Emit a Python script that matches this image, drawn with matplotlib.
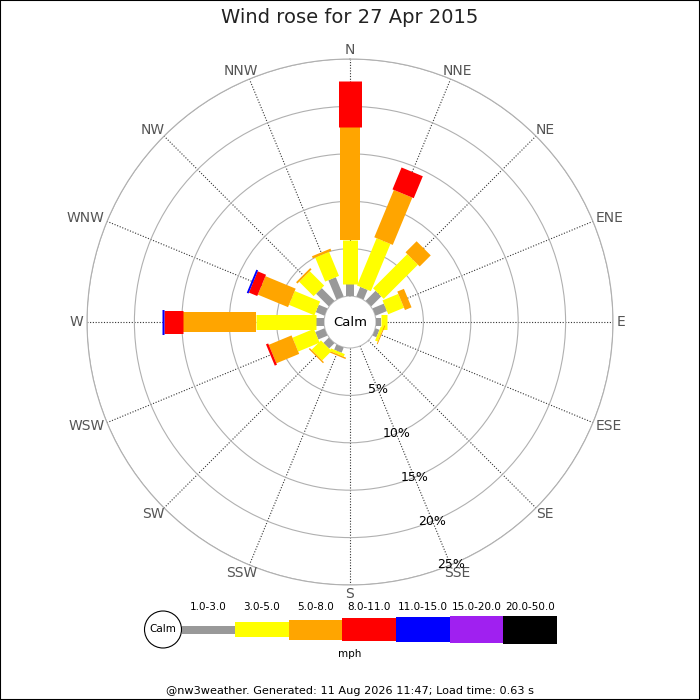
import numpy as np
import matplotlib
matplotlib.use("Agg")
import matplotlib.pyplot as plt
from matplotlib.patches import Rectangle, Circle

# --- data (percent of time, per speed band, non-cumulative) ---
directions = ['N', 'NNE', 'NE', 'ENE', 'E', 'ESE', 'SE', 'SSE',
              'S', 'SSW', 'SW', 'WSW', 'W', 'WNW', 'NW', 'NNW']
speed_edges = [1.0, 3.0, 5.0, 8.0, 11.0, 15.0, 20.0, 50.0]
band_1_3 = [1.25, 1.1, 1.5, 1.3, 0.5, 0.45, 0, 0, 0, 0.6, 0.8, 1.05, 0.85, 1.0, 1.9, 2.2]
band_3_5 = [4.65, 5.4, 5.1, 1.8, 0.7, 0.3, 0, 0, 0, 0.3, 1.4, 2.45, 6.3, 2.9, 2.15, 2.75]
band_5_8 = [11.9, 5.4, 1.65, 0.75, 0, 0.1, 0, 0, 0, 0.15, 0.15, 2.6, 7.75, 3.45, 0.2, 0.25]
band_8_11 = [4.9, 2.5, 0, 0, 0, 0, 0, 0, 0, 0, 0, 0.25, 2.0, 0.95, 0, 0]
band_11_15 = [0, 0, 0, 0, 0, 0, 0, 0, 0, 0, 0, 0, 0.15, 0.2, 0, 0]
band_15_20 = [0] * 16
band_20_50 = [0] * 16
rings = [5, 10, 15, 20, 25]

bands = [band_1_3, band_3_5, band_5_8, band_8_11, band_11_15, band_15_20, band_20_50]
colors = ['#999999', '#ffff00', '#ffa500', '#ff0000', '#0000ff', '#a020f0', '#000000']
widths_px = [8, 15, 20, 23, 25, 27, 28]

fig = plt.figure(figsize=(7, 7), dpi=100)
fig.patch.set_facecolor('white')

# polar rose with a hole for calm
rmax = 25
r0 = 2.74
ax = fig.add_axes([0.1243, 0.1643, 0.7514, 0.7514], projection='polar')
ax.set_theta_zero_location('N')
ax.set_theta_direction(-1)
ax.set_ylim(0, rmax)
ax.set_rorigin(-r0)
theta = np.deg2rad(np.arange(16) * 22.5)

ax.set_thetagrids(np.arange(16) * 22.5, labels=[''] * 16)
ax.set_rgrids(rings, labels=[''] * len(rings))
ax.xaxis.grid(True, linestyle=(0, (1, 1.5)), color='#333333', linewidth=0.8)
ax.yaxis.grid(True, linestyle='-', color='#b0b0b0', linewidth=0.8)
ax.tick_params(length=0)
ax.spines['polar'].set_color('#b0b0b0')
ax.spines['polar'].set_linewidth(0.8)
ax.spines['inner'].set_color('#bbbbbb')
ax.spines['inner'].set_linewidth(0.8)

for i in range(16):
    bottom = 0.0
    for k, band in enumerate(bands):
        v = band[i]
        if v <= 0:
            continue
        ax.plot([theta[i], theta[i]], [bottom, bottom + v], color=colors[k],
                lw=widths_px[k] * 0.72, solid_capstyle='butt', zorder=3)
        bottom += v

# compass labels just outside the rim, pushed out by half their size
renderer = fig.canvas.get_renderer()
for i, name in enumerate(directions):
    s, c = np.sin(theta[i]), np.cos(theta[i])
    t = ax.text(0, 0, name, fontsize=10)
    w = t.get_window_extent(renderer).width
    t.remove()
    dx = s * (4 + w / 2)
    dy = c * (4 + 5)
    ax.annotate(name, xy=(theta[i], rmax), xytext=(dx * 0.72, dy * 0.72),
                textcoords='offset points', ha='center', va='center',
                fontsize=10, color='#555555', annotation_clip=False)

for r in rings:
    ax.text(np.deg2rad(157.5), r, f'{r}%', ha='center', va='center',
            fontsize=9, color='black', zorder=4, clip_on=False)

ax.text(0.5, 0.5, 'Calm', transform=ax.transAxes, ha='center', va='center',
        fontsize=9.5, color='black')

# title and footer
fig.text(0.5, 1 - 17.5 / 700, 'Wind rose for 27 Apr 2015', ha='center', va='center',
         fontsize=14, color='#222222')
fig.text(0.5, 1 - 691 / 700,
         '@nw3weather. Generated: 11 Aug 2026 11:47; Load time: 0.63 s',
         ha='center', va='center', fontsize=8.1, color='black')

# legend strip (pixel coordinates)
lax = fig.add_axes([0, 0, 1, 1])
lax.set_xlim(0, 700)
lax.set_ylim(700, 0)
lax.axis('off')
lax.patch.set_alpha(0)
cy = 629.5
lax.add_patch(Circle((163, cy), 18.5, facecolor='white', edgecolor='black', lw=0.8))
lax.text(163, cy, 'Calm', ha='center', va='center', fontsize=7.5)
seg_w = 53.6
x = 181.5
for k in range(len(colors)):
    h = widths_px[k]
    lax.add_patch(Rectangle((x, cy - h / 2), seg_w, h, facecolor=colors[k],
                            edgecolor='none'))
    lax.text(x + seg_w / 2, 607, f'{speed_edges[k]:.1f}-{speed_edges[k + 1]:.1f}',
             ha='center', va='center', fontsize=7.5)
    x += seg_w
lax.text(350, 654, 'mph', ha='center', va='center', fontsize=7.5)

fig.patches.append(Rectangle((0, 0), 1, 1, transform=fig.transFigure, fill=False,
                             edgecolor='black', lw=1.5))

fig.savefig('out.png', dpi=100)
